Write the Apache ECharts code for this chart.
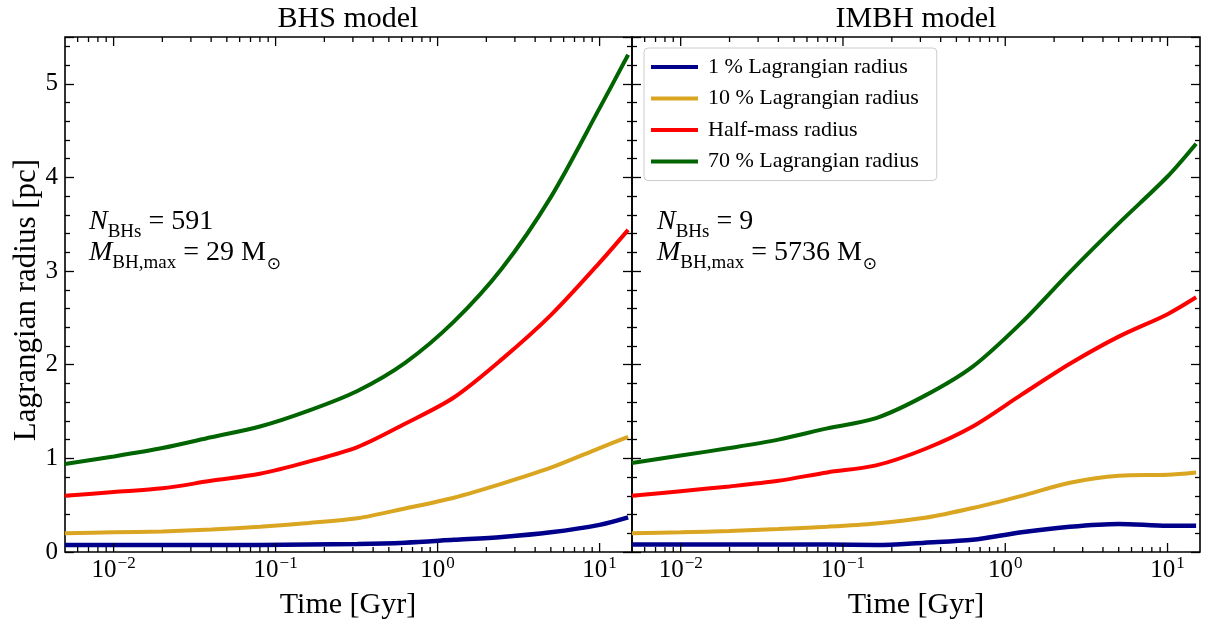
<!DOCTYPE html>
<html>
<head>
<meta charset="utf-8">
<script src="https://cdn.jsdelivr.net/npm/echarts@6/dist/echarts.min.js"></script>
<style>
  html, body { margin: 0; padding: 0; background: #fff; }
  #chart { width: 1206px; height: 624px; }
</style>
</head>
<body>
<div id="chart"></div>
<script>
  // time grid (Gyr), shared by every curve
  var timeGyr = [0.005, 0.01, 0.02, 0.04, 0.08, 0.16, 0.32, 0.63, 1.26, 2.5, 5.0, 10.0, 15.0];

  // BHS model
  var bhsR1  = [0.075, 0.075, 0.075, 0.075, 0.075, 0.08, 0.085, 0.10, 0.13, 0.16, 0.21, 0.29, 0.37];
  var bhsR10 = [0.20, 0.21, 0.22, 0.24, 0.27, 0.31, 0.36, 0.465, 0.58, 0.73, 0.90, 1.11, 1.23];
  var bhsRh  = [0.60, 0.64, 0.68, 0.76, 0.835, 0.965, 1.12, 1.37, 1.65, 2.06, 2.53, 3.09, 3.44];
  var bhsR70 = [0.94, 1.02, 1.11, 1.225, 1.34, 1.51, 1.72, 2.02, 2.46, 3.03, 3.79, 4.74, 5.31];

  // IMBH model
  var imbhR1  = [0.08, 0.08, 0.08, 0.08, 0.08, 0.075, 0.10, 0.13, 0.21, 0.27, 0.30, 0.28, 0.28];
  var imbhR10 = [0.20, 0.21, 0.225, 0.245, 0.27, 0.305, 0.365, 0.47, 0.60, 0.74, 0.815, 0.825, 0.85];
  var imbhRh  = [0.60, 0.65, 0.70, 0.76, 0.85, 0.925, 1.10, 1.34, 1.68, 2.01, 2.30, 2.54, 2.72];
  var imbhR70 = [0.95, 1.03, 1.11, 1.20, 1.32, 1.43, 1.67, 1.98, 2.45, 2.99, 3.51, 4.01, 4.36];

  var seriesNames = ['1 % Lagrangian radius', '10 % Lagrangian radius', 'Half-mass radius', '70 % Lagrangian radius'];
  var seriesColors = ['#00008b', '#daa520', '#ff0000', '#006400'];
  var seriesWidths = [4.5, 4, 4, 4];
  var yTicks = [0, 1, 2, 3, 4, 5];

  var X_MIN = -2.3, X_MAX = 1.2, Y_MAX = 5.5;
  var FONT = 'Liberation Serif';

  // log-axis tick positions (in log10 space)
  var xTickData = [];
  for (var d = -3; d <= 1; d++) {
    for (var k = 1; k <= 9; k++) {
      var lv = d + Math.log10(k);
      if (lv >= X_MIN && lv <= X_MAX) xTickData.push([lv, k === 1 ? 1 : 0]);
    }
  }

  function pts(vals) {
    return timeGyr.map(function (t, i) { return [Math.log10(t), vals[i]]; });
  }

  function supLabel(v) {
    var n = Math.round(v);
    if (Math.abs(v - n) > 1e-6) return '';
    var s = n < 0 ? '\u2212' + (-n) : '' + n;
    return '{b|10}{s|' + s + '}';
  }

  function renderTicks(params, api) {
    var x = api.value(0);
    var len = api.value(1) ? 9 : 5;
    var b = api.coord([x, 0]);
    var t = api.coord([x, Y_MAX]);
    var st = { stroke: '#000', lineWidth: 1.3 };
    return {
      type: 'group',
      children: [
        { type: 'line', shape: { x1: b[0], y1: b[1], x2: b[0], y2: b[1] - len }, style: st },
        { type: 'line', shape: { x1: t[0], y1: t[1], x2: t[0], y2: t[1] + len }, style: st }
      ]
    };
  }

  function xAxisCfg(gi) {
    return {
      type: 'value', gridIndex: gi, min: X_MIN, max: X_MAX, interval: 0.1,
      axisLine: { show: false, onZero: false }, axisTick: { show: false }, splitLine: { show: false },
      axisLabel: {
        margin: 3, formatter: supLabel,
        rich: {
          b: { fontFamily: FONT, fontSize: 25, color: '#000', lineHeight: 28, verticalAlign: 'bottom' },
          s: { fontFamily: FONT, fontSize: 17, color: '#000', lineHeight: 28, verticalAlign: 'top', padding: [0, 0, 0, 1] }
        }
      }
    };
  }

  function yAxisCfg(gi, pos, labels) {
    return {
      type: 'value', gridIndex: gi, position: pos, min: 0, max: Y_MAX, interval: 1,
      axisLine: { show: false, onZero: false },
      axisTick: { show: true, inside: true, length: 9, lineStyle: { color: '#000', width: 1.3 } },
      minorTick: { show: true, splitNumber: 5, length: 5, lineStyle: { color: '#000', width: 1.3 } },
      splitLine: { show: false },
      axisLabel: {
        show: labels, margin: 7, fontFamily: FONT, fontSize: 25, color: '#000',
        formatter: function (v) { return yTicks.indexOf(v) >= 0 ? '' + v : ''; }
      }
    };
  }

  var panels = [[bhsR1, bhsR10, bhsRh, bhsR70], [imbhR1, imbhR10, imbhRh, imbhR70]];
  var series = [];
  panels.forEach(function (vals, gi) {
    vals.forEach(function (v, si) {
      series.push({
        name: seriesNames[si], type: 'line', xAxisIndex: gi, yAxisIndex: gi * 2,
        data: pts(v), showSymbol: false, smooth: 0.3,
        color: seriesColors[si], lineStyle: { width: seriesWidths[si], color: seriesColors[si] },
        z: 3
      });
    });
    series.push({
      type: 'custom', xAxisIndex: gi, yAxisIndex: gi * 2, data: xTickData,
      renderItem: renderTicks, silent: true, clip: false, z: 5
    });
  });

  function annot(x, n, m) {
    return {
      type: 'text', left: x, top: 208, z: 10,
      style: {
        text: '{i|N}{sub|BHs}{r| = ' + n + '}\n{i|M}{sub|BH,max}{r| = ' + m + ' M}{sun|\u2299}',
        rich: {
          i: { fontFamily: FONT, fontStyle: 'italic', fontSize: 28, lineHeight: 31, verticalAlign: 'bottom' },
          r: { fontFamily: FONT, fontSize: 28, lineHeight: 31, verticalAlign: 'bottom' },
          sub: { fontFamily: FONT, fontSize: 19, lineHeight: 31, verticalAlign: 'bottom', padding: [0, 0, -6, 0] },
          sun: { fontFamily: 'DejaVu Sans', fontSize: 17, lineHeight: 31, verticalAlign: 'bottom', padding: [0, 0, -6, 1] }
        }
      }
    };
  }

  var chart = echarts.init(document.getElementById('chart'), null, { renderer: 'canvas' });
  chart.setOption({
    backgroundColor: '#fff',
    animation: false,
    grid: [
      { left: 65, right: 574, top: 37, bottom: 72, show: true, borderColor: '#000', borderWidth: 1.6, backgroundColor: 'transparent' },
      { left: 632, right: 6, top: 37, bottom: 72, show: true, borderColor: '#000', borderWidth: 1.6, backgroundColor: 'transparent' }
    ],
    xAxis: [xAxisCfg(0), xAxisCfg(1)],
    yAxis: [yAxisCfg(0, 'left', true), yAxisCfg(0, 'right', false), yAxisCfg(1, 'left', false), yAxisCfg(1, 'right', false)],
    legend: {
      data: seriesNames, orient: 'vertical', left: 644, top: 48,
      icon: 'rect', itemWidth: 47, itemHeight: 4, itemGap: 9.5,
      padding: [8, 18, 8, 7],
      backgroundColor: 'rgba(255,255,255,0.85)', borderColor: '#cccccc', borderWidth: 1, borderRadius: 4,
      textStyle: { fontFamily: FONT, fontSize: 22, color: '#000', lineHeight: 22, padding: [0, 0, 0, 5] },
      selectedMode: false
    },
    graphic: [
      { type: 'text', x: 348, y: 19, style: { text: 'BHS model', font: '30px "Liberation Serif"', fill: '#000', align: 'center', verticalAlign: 'middle' } },
      { type: 'text', x: 916, y: 19, style: { text: 'IMBH model', font: '30px "Liberation Serif"', fill: '#000', align: 'center', verticalAlign: 'middle' } },
      { type: 'text', x: 348, y: 605, style: { text: 'Time [Gyr]', font: '30px "Liberation Serif"', fill: '#000', align: 'center', verticalAlign: 'middle' } },
      { type: 'text', x: 916, y: 605, style: { text: 'Time [Gyr]', font: '30px "Liberation Serif"', fill: '#000', align: 'center', verticalAlign: 'middle' } },
      { type: 'text', x: 27, y: 300, rotation: Math.PI / 2, style: { text: 'Lagrangian radius [pc]', font: '31px "Liberation Serif"', fill: '#000', align: 'center', verticalAlign: 'middle' } },
      annot(89, '591', '29'),
      annot(657, '9', '5736')
    ],
    series: series
  });
</script>
</body>
</html>
